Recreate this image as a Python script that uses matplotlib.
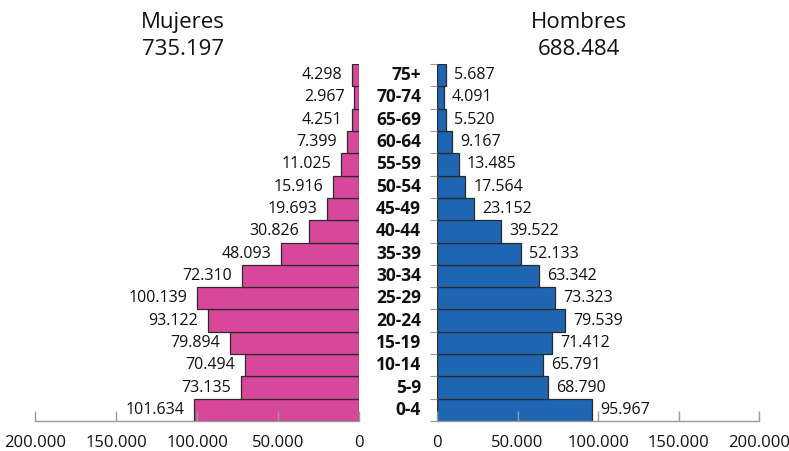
import matplotlib
matplotlib.use("Agg")
import matplotlib.pyplot as plt
from matplotlib.ticker import FuncFormatter, FixedLocator

plt.rcParams['font.family'] = ['Open Sans', 'DejaVu Sans']

ages = ["0-4", "5-9", "10-14", "15-19", "20-24", "25-29", "30-34", "35-39",
        "40-44", "45-49", "50-54", "55-59", "60-64", "65-69", "70-74", "75+"]
mujeres = [101634, 73135, 70494, 79894, 93122, 100139, 72310, 48093,
           30826, 19693, 15916, 11025, 7399, 4251, 2967, 4298]
hombres = [95967, 68790, 65791, 71412, 79539, 73323, 63342, 52133,
           39522, 23152, 17564, 13485, 9167, 5520, 4091, 5687]
ticks = [0, 50000, 100000, 150000, 200000]
total_m = "735.197"
total_h = "688.484"

pink = "#D8489A"
blue = "#1F66B2"
edge = "#2a2a2a"
axis_gray = "#9a9a9a"


def fmt_es(v):
    return f"{int(v):,}".replace(",", ".")


fig = plt.figure(figsize=(7.89, 4.51), dpi=100)
bottom, top = 1 - 421 / 451, 1 - 64 / 451
axL = fig.add_axes([35 / 789, bottom, (359 - 35) / 789, top - bottom])
axR = fig.add_axes([437 / 789, bottom, (759 - 437) / 789, top - bottom])

y = list(range(len(ages)))

axL.barh(y, mujeres, height=1.0, color=pink, edgecolor=edge, linewidth=0.9)
axR.barh(y, hombres, height=1.0, color=blue, edgecolor=edge, linewidth=0.9)

axL.set_xlim(200000, 0)
axR.set_xlim(0, 200000)
for ax in (axL, axR):
    ax.set_ylim(-0.5, len(ages) - 0.5)
    for s in ("top", "right", "left"):
        ax.spines[s].set_visible(False)
    ax.spines["bottom"].set_color(axis_gray)
    ax.spines["bottom"].set_linewidth(1.0)
    ax.xaxis.set_major_locator(FixedLocator(ticks))
    ax.xaxis.set_major_formatter(FuncFormatter(lambda v, p: fmt_es(v)))
    ax.tick_params(axis="x", direction="in", length=7, width=1.0,
                   color=axis_gray, labelsize=12, pad=10, labelcolor="#111111")
    ax.set_yticks([])

# boundary ticks along the left edge of the right-hand panel
axR.set_yticks([i - 0.5 for i in range(len(ages) + 1)])
axR.set_yticklabels([])
axR.tick_params(axis="y", direction="out", length=5, width=0.8, color=axis_gray)

# value labels
for i, v in enumerate(mujeres):
    axL.annotate(fmt_es(v), (v, i), xytext=(-7, 0), textcoords="offset points",
                 ha="right", va="center", fontsize=11.5, color="#111111")
for i, v in enumerate(hombres):
    axR.annotate(fmt_es(v), (v, i), xytext=(6, 0), textcoords="offset points",
                 ha="left", va="center", fontsize=11.5, color="#111111")

# age group labels between the panels
for i, a in enumerate(ages):
    axR.annotate(a, (0, i), xycoords=("axes fraction", "data"),
                 xytext=(-11.5, 0), textcoords="offset points",
                 ha="right", va="center", fontsize=12.5, fontweight="bold",
                 color="#111111")

fig.text(183 / 789, 1 - 36 / 451, f"Mujeres\n{total_m}", ha="center", va="center",
         fontsize=16, linespacing=1.38, color="#111111")
fig.text(579 / 789, 1 - 36 / 451, f"Hombres\n{total_h}", ha="center", va="center",
         fontsize=16, linespacing=1.38, color="#111111")

fig.savefig("out.png", dpi=100)
